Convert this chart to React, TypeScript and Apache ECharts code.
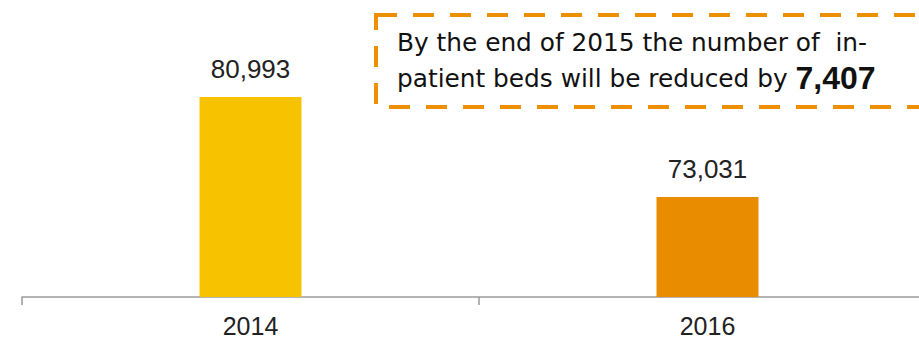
import React, { useEffect, useRef } from "react";
import * as echarts from "echarts";

const categories = ["2014", "2016"];
const beds = [80993, 73031];
const barColors = ["#F7C300", "#EA8C00"];
const noteLine1 = "By the end of 2015 the number of  in-";
const noteLine2 = "patient beds will be reduced by ";
const reduction = "7,407";

export default function App() {
  const ref = useRef<HTMLDivElement>(null);
  useEffect(() => {
    if (!ref.current) return;
    const chart = echarts.init(ref.current, null, { renderer: "svg" });
    const font = "'Liberation Sans', Helvetica, Arial, sans-serif";
    const noteFont = "'DejaVu Sans', sans-serif";
    chart.setOption({
      animation: false,
      grid: { left: 22, top: 0, bottom: 42, right: -17, outerBoundsMode: "none", containLabel: false },
      xAxis: {
        type: "category",
        data: categories,
        axisLine: { lineStyle: { color: "#9a9a9a", width: 1.5 } },
        axisTick: { show: true, length: 8, lineStyle: { color: "#9a9a9a", width: 1.5 } },
        axisLabel: { color: "#222", fontSize: 25, lineHeight: 20, fontFamily: font, margin: 19 },
      },
      yAxis: {
        type: "value",
        min: 65069,
        max: 88716,
        show: false,
        splitLine: { show: false },
      },
      series: [
        {
          type: "bar",
          barWidth: 102,
          data: beds.map((v, i) => ({ value: v, itemStyle: { color: barColors[i] } })),
          label: {
            show: true,
            position: "top",
            distance: 15,
            color: "#222",
            fontSize: 26,
            fontFamily: font,
            formatter: (p: any) => Number(p.value).toLocaleString("en-US"),
          },
        },
      ],
      graphic: [
        {
          type: "rect",
          shape: { x: 376, y: 15, width: 600, height: 92 },
          style: { fill: "#fff", stroke: "#EE8F00", lineWidth: 4, lineDash: [21, 16] },
        },
        {
          type: "text",
          x: 397,
          y: 42,
          style: {
            text: noteLine1,
            fontSize: 24.8,
            fontFamily: noteFont,
            fill: "#111",
            verticalAlign: "middle",
          },
        },
        {
          type: "text",
          x: 397,
          y: 78,
          style: {
            text: noteLine2 + "{b|" + reduction + "}",
            fontSize: 24.8,
            fontFamily: noteFont,
            fill: "#111",
            verticalAlign: "middle",
            rich: { b: { fontSize: 32, fontWeight: "bold", fontFamily: font, fill: "#111" } },
          },
        },
      ],
    });
    return () => chart.dispose();
  }, []);
  return (
    <div
      ref={ref}
      style={{ position: "fixed", left: 0, top: 0, width: 919, height: 339, background: "#fff" }}
    />
  );
}
